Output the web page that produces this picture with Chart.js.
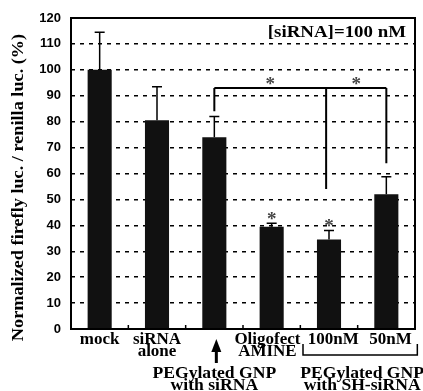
<!DOCTYPE html>
<html>
<head>
<meta charset="utf-8">
<script src="https://cdn.jsdelivr.net/npm/chart.js@4.4.1/dist/chart.umd.min.js"></script>
<style>
  html, body { margin: 0; padding: 0; background: #fff; }
</style>
</head>
<body>
<canvas id="knockdownChart" width="423" height="391"></canvas>
<script>
// valeurs
const categories = [['mock'], ['siRNA', 'alone'], '', ['Oligofect  ', 'AMINE  '], '  100nM', '  50nM'];
const values = [100, 80.5, 74, 39.5, 34.5, 52];
const errorsUp = [14.5, 13, 8, 1.3, 3.5, 6.7];
const starred = [false, false, false, true, true, false];
const yTicks = [0, 10, 20, 30, 40, 50, 60, 70, 80, 90, 100, 110, 120];

// crochet de significativité (index de catégorie, bas de la jambe)
const bracketLevel = 93;
const bracketLegs = [{ index: 2, bottom: 84 }, { index: 3.95, bottom: 54 }, { index: 5, bottom: 64 }];

const serif = '"Liberation Serif", "Times New Roman", serif';
const sans = '"Liberation Sans", Arial, sans-serif';

// texte étiré horizontalement comme dans la figure d'origine
function stretchedText(ctx, text, x, y, sx) {
    ctx.save();
    ctx.translate(x, y);
    ctx.scale(sx, 1);
    ctx.fillText(text, 0, 0);
    ctx.restore();
}

const annotations = {
    id: 'annotations',
    afterDatasetsDraw(chart) {
        const ctx = chart.ctx;
        const x = chart.scales.x;
        const y = chart.scales.y;
        const area = chart.chartArea;
        ctx.save();
        ctx.strokeStyle = '#000';
        ctx.fillStyle = '#000';

        // barres d'erreur (vers le haut seulement)
        ctx.lineWidth = 1.5;
        values.forEach(function(v, i) {
            const px = x.getPixelForValue(i);
            const top = y.getPixelForValue(v + errorsUp[i]);
            ctx.beginPath();
            ctx.moveTo(px, y.getPixelForValue(v));
            ctx.lineTo(px, top);
            ctx.moveTo(px - 5, top);
            ctx.lineTo(px + 5, top);
            ctx.stroke();
        });

        // étoiles au-dessus des barres
        ctx.fillStyle = '#444';
        ctx.font = 'bold 19px ' + serif;
        ctx.textAlign = 'center';
        ctx.textBaseline = 'middle';
        values.forEach(function(v, i) {
            if (starred[i]) {
                ctx.fillText('*', x.getPixelForValue(i), y.getPixelForValue(v + errorsUp[i]) - 3);
            }
        });

        // crochet
        ctx.lineWidth = 2;
        const yl = y.getPixelForValue(bracketLevel);
        const first = bracketLegs[0], last = bracketLegs[bracketLegs.length - 1];
        ctx.beginPath();
        ctx.moveTo(x.getPixelForValue(first.index), yl);
        ctx.lineTo(x.getPixelForValue(last.index), yl);
        bracketLegs.forEach(function(leg) {
            const px = x.getPixelForValue(leg.index);
            ctx.moveTo(px, yl);
            ctx.lineTo(px, y.getPixelForValue(leg.bottom));
        });
        ctx.stroke();
        for (let k = 0; k < bracketLegs.length - 1; k++) {
            const mid = (x.getPixelForValue(bracketLegs[k].index) + x.getPixelForValue(bracketLegs[k + 1].index)) / 2;
            ctx.fillText('*', mid, yl - 3);
        }
        ctx.fillStyle = '#000';

        // texte en haut à droite
        ctx.font = 'bold 16px ' + serif;
        ctx.textAlign = 'right';
        stretchedText(ctx, '[siRNA]=100 nM', area.right - 9, y.getPixelForValue(114.2), 1.18);

        // titre de l'axe y
        ctx.save();
        ctx.translate(19, (area.top + area.bottom) / 2 + 14);
        ctx.rotate(-Math.PI / 2);
        ctx.font = 'bold 16px ' + serif;
        ctx.textAlign = 'center';
        stretchedText(ctx, 'Normalized firefly luc. / renilla luc. (%)', 0, 0, 1.14);
        ctx.restore();

        // cadre
        ctx.lineWidth = 2;
        ctx.strokeRect(area.left, area.top, area.right - area.left, area.bottom - area.top);

        // petites graduations entre les catégories
        ctx.lineWidth = 1.5;
        for (let i = 1; i < categories.length; i++) {
            const px = x.getPixelForValue(i - 0.5);
            ctx.beginPath();
            ctx.moveTo(px, area.bottom);
            ctx.lineTo(px, area.bottom - 4);
            ctx.stroke();
        }

        // flèche sous la barre PEGylated GNP
        const ax = x.getPixelForValue(2) + 2;
        ctx.lineWidth = 3;
        ctx.beginPath();
        ctx.moveTo(ax, area.bottom + 22);
        ctx.lineTo(ax, area.bottom + 34);
        ctx.stroke();
        ctx.beginPath();
        ctx.moveTo(ax, area.bottom + 10);
        ctx.lineTo(ax - 5, area.bottom + 23);
        ctx.lineTo(ax + 5, area.bottom + 23);
        ctx.closePath();
        ctx.fill();

        // crochet sous 100nM / 50nM
        const bl = x.getPixelForValue(4) - 26;
        const br = x.getPixelForValue(5) + 31;
        ctx.lineWidth = 1.5;
        ctx.beginPath();
        ctx.moveTo(bl, area.bottom + 15);
        ctx.lineTo(bl, area.bottom + 26);
        ctx.lineTo(br, area.bottom + 26);
        ctx.lineTo(br, area.bottom + 15);
        ctx.stroke();

        // libellés de groupe
        ctx.font = 'bold 16px ' + serif;
        ctx.textAlign = 'center';
        ctx.textBaseline = 'alphabetic';
        const gx1 = x.getPixelForValue(2);
        stretchedText(ctx, 'PEGylated GNP', gx1, area.bottom + 49, 1.1);
        stretchedText(ctx, 'with siRNA', gx1, area.bottom + 61, 1.1);
        const gx2 = (bl + br) / 2 + 2;
        stretchedText(ctx, 'PEGylated GNP', gx2, area.bottom + 49, 1.1);
        stretchedText(ctx, 'with SH-siRNA', gx2, area.bottom + 61, 1.1);
        ctx.restore();
    }
};

new Chart(document.getElementById('knockdownChart'), {
    type: 'bar',
    data: {
        labels: categories,
        datasets: [{
            data: values,
            backgroundColor: '#111',
            borderWidth: 0,
            barPercentage: 0.42,
            categoryPercentage: 1
        }]
    },
    options: {
        responsive: false,
        animation: false,
        layout: { padding: { left: 0, right: 8, top: 18, bottom: 0 } },
        plugins: {
            legend: { display: false },
            tooltip: { enabled: false }
        },
        scales: {
            x: {
                grid: { display: false, drawTicks: false },
                border: { display: false },
                ticks: {
                    color: '#000',
                    padding: 4,
                    maxRotation: 0,
                    autoSkip: false,
                    font: { family: serif, size: 17, weight: 'bold', lineHeight: 0.74 }
                },
                afterFit: function(scale) { scale.height = 62; }
            },
            y: {
                min: 0,
                max: 120,
                afterBuildTicks: function(scale) {
                    scale.ticks = yTicks.map(function(v) { return { value: v }; });
                },
                grid: { color: '#000', lineWidth: 1.5, drawTicks: false },
                border: { display: false, dash: [4, 5] },
                ticks: {
                    color: '#000',
                    padding: 10,
                    font: { family: sans, size: 13, weight: 'bold' }
                },
                title: { display: false },
                afterFit: function(scale) { scale.width = 71; }
            }
        }
    },
    plugins: [annotations]
});
</script>
</body>
</html>
